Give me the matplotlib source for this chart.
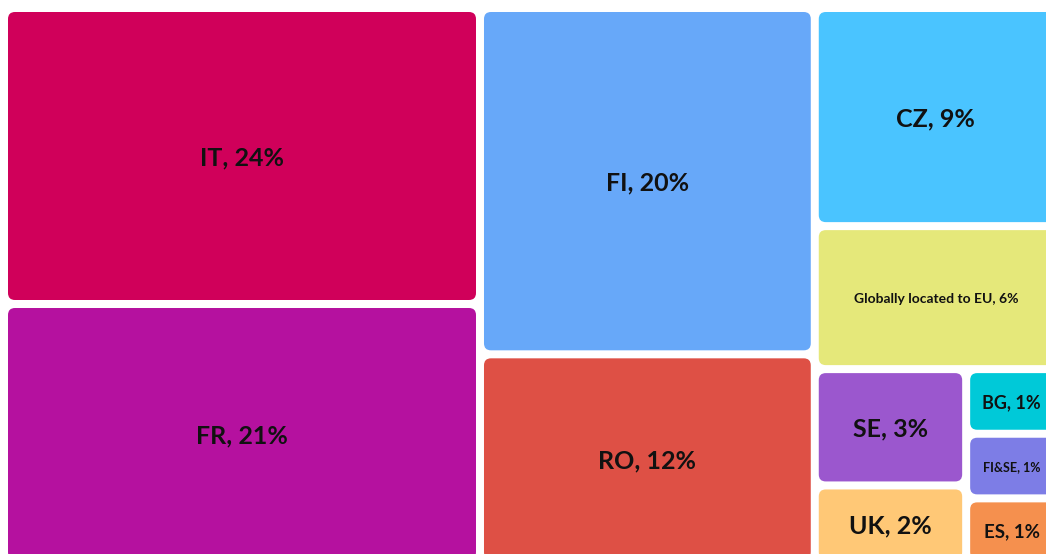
import matplotlib
matplotlib.use('Agg')
import matplotlib.pyplot as plt
from matplotlib.patches import FancyBboxPatch

# Treemap data (share of total, %), estimated from tile areas; labels show rounded values
labels = ['IT', 'FR', 'FI', 'RO', 'CZ', 'Globally located to EU', 'SE', 'UK', 'BG', 'FI&SE', 'ES']
values = [24.0, 21.0, 19.75, 11.9, 9.0, 5.9, 3.0, 2.0, 1.0, 1.0, 1.0]
colors = ['#D0005A', '#B5119F', '#67A8F9', '#DE5045', '#4AC4FF', '#E5E87A',
          '#9B57CE', '#FFC876', '#00C9D8', '#7D7DE6', '#F5904E']
font_sizes = [18, 18, 18, 18, 18, 10, 18, 18, 13, 9, 13.5]


def worst_ratio(row, length):
    s = sum(row)
    return max(max(length * length * r / (s * s), (s * s) / (length * length * r)) for r in row)


def squarify(vals, x, y, w, h):
    """Squarified treemap layout; vals must be sorted descending and sum to w*h."""
    rects = []
    vals = list(vals)
    while vals:
        length = min(w, h)
        row = [vals.pop(0)]
        while vals and worst_ratio(row + [vals[0]], length) <= worst_ratio(row, length):
            row.append(vals.pop(0))
        s = sum(row)
        if w >= h:
            cw = s / h
            cy = y
            for r in row:
                rh = r / cw
                rects.append((x, cy, cw, rh))
                cy += rh
            x += cw
            w -= cw
        else:
            rh = s / w
            cx = x
            for r in row:
                rw = r / rh
                rects.append((cx, y, rw, rh))
                cx += rw
            y += rh
            h -= rh
    return rects


# canvas of the treemap (in pixels); the picture crops it a little on the right/bottom
X0, Y0, W, H = 4, 8, 1053, 555
gap = 4

total = sum(values)
scaled = [v / total * W * H for v in values]
rects = squarify(scaled, X0, Y0, W, H)

fig = plt.figure(figsize=(10.46, 5.54), dpi=100)
ax = fig.add_axes([0, 0, 1, 1])
ax.set_xlim(0, 1046)
ax.set_ylim(554, 0)
ax.axis('off')

for (rx, ry, rw, rh), lab, val, col, fs in zip(rects, labels, values, colors, font_sizes):
    patch = FancyBboxPatch((rx + gap, ry + gap), rw - 2 * gap, rh - 2 * gap,
                           boxstyle='round,pad=0,rounding_size=7',
                           facecolor=col, edgecolor='none')
    ax.add_patch(patch)
    ax.text(rx + rw / 2, ry + rh / 2, f'{lab}, {round(val)}%', ha='center', va='center_baseline',
            fontsize=fs, fontweight='bold', color='#111111', family='Lato')

fig.savefig('out.png', dpi=100)
